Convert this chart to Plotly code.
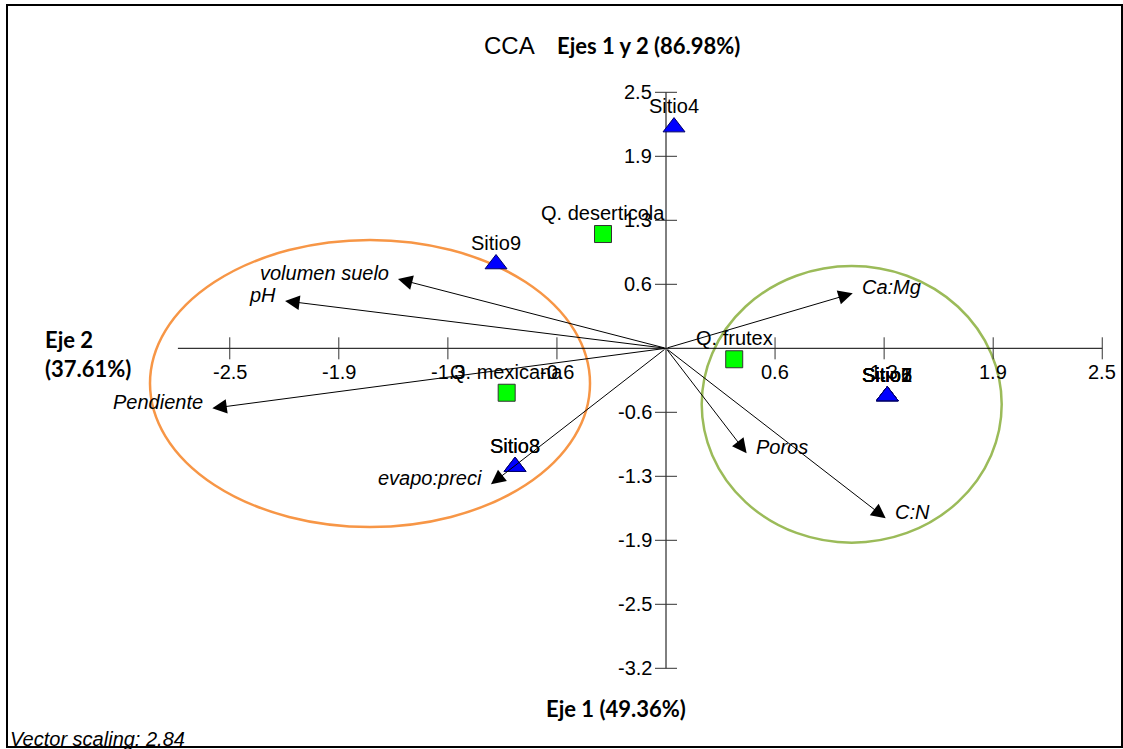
import plotly.graph_objects as go

# ---------------- data ----------------
site_names = ["Sitio4", "Sitio9", "Sitio8", "Sitio3", "Sitio1", "Sitio2", "Sitio5", "Sitio6", "Sitio7"]
site_x = [0.046, -0.974, -0.865, -0.865, 1.268, 1.268, 1.268, 1.268, 1.268]
site_y = [2.160, 0.823, -1.156, -1.156, -0.466, -0.466, -0.466, -0.466, -0.466]

species_names = ["Q. deserticola", "Q. mexicana", "Q. frutex"]
species_x = [-0.361, -0.913, 0.391]
species_y = [1.116, -0.434, -0.107]

vector_names = ["volumen suelo", "pH", "Pendiente", "evapo:preci", "Ca:Mg", "Poros", "C:N"]
vector_x = [-1.536, -2.183, -2.600, -1.003, 1.070, 0.462, 1.259]
vector_y = [0.677, 0.463, -0.586, -1.328, 0.537, -1.025, -1.660]

x_tick_vals = [-2.5, -1.875, -1.25, -0.625, 0.625, 1.25, 1.875, 2.5]
x_tick_text = ["-2.5", "-1.9", "-1.3", "-0.6", "0.6", "1.3", "1.9", "2.5"]
y_tick_vals = [2.5, 1.875, 1.25, 0.625, -0.625, -1.25, -1.875, -2.5, -3.125]
y_tick_text = ["2.5", "1.9", "1.3", "0.6", "-0.6", "-1.3", "-1.9", "-2.5", "-3.2"]

title_main = "CCA"
title_sub = "Ejes 1 y 2 (86.98%)"
xlabel = "Eje 1 (49.36%)"
ylabel_1 = "Eje 2"
ylabel_2 = "(37.61%)"
footnote = "Vector scaling: 2.84"

# ---------------- layout constants ----------------
W, H = 1123, 749
X0PX, XSCALE = 666.0, 174.5     # pixel of x=0, px per unit
Y0PX, YSCALE = 348.3, 102.4     # pixel of y=0, px per unit
x_range = [(0 - X0PX) / XSCALE, (W - X0PX) / XSCALE]
y_range = [(Y0PX - H) / YSCALE, (Y0PX - 0) / YSCALE]

ARIAL = "Liberation Sans, Arial, sans-serif"
BOLD = "Lato, Calibri, sans-serif"

fig = go.Figure()

# axis lines
x_axis_min = -2.797
y_axis_max, y_axis_min = 2.5, -3.125
fig.add_trace(go.Scatter(x=[x_axis_min, 2.5], y=[0, 0], mode="lines",
                         line=dict(color="black", width=1), hoverinfo="skip", showlegend=False))
fig.add_trace(go.Scatter(x=[0, 0], y=[y_axis_min, y_axis_max], mode="lines",
                         line=dict(color="black", width=1), hoverinfo="skip", showlegend=False))

# tick marks
tx, ty = [], []
dy = 11 / YSCALE
for v in x_tick_vals:
    tx += [v, v, None]
    ty += [-dy, dy, None]
dx = 11 / XSCALE
for v in y_tick_vals:
    tx += [-dx, dx, None]
    ty += [v, v, None]
fig.add_trace(go.Scatter(x=tx, y=ty, mode="lines", line=dict(color="#333333", width=1),
                         hoverinfo="skip", showlegend=False))

annotations = []
for v, t in zip(x_tick_vals, x_tick_text):
    annotations.append(dict(x=v, y=0, xref="x", yref="y", text=t, showarrow=False,
                            xanchor="center", yanchor="middle", yshift=-24,
                            font=dict(family=ARIAL, size=20, color="black")))
for v, t in zip(y_tick_vals, y_tick_text):
    annotations.append(dict(x=0, y=v, xref="x", yref="y", text=t, showarrow=False,
                            xanchor="right", yanchor="middle", xshift=-12,
                            font=dict(family=ARIAL, size=20, color="black")))

# ellipses + frame
shapes = [
    dict(type="circle", xref="x", yref="y", x0=-2.957, x1=-0.4355, y0=-1.745, y1=1.0576,
         line=dict(color="#F79646", width=2.5), layer="below"),
    dict(type="circle", xref="x", yref="y", x0=0.2046, x1=1.9238, y0=-1.898, y1=0.8037,
         line=dict(color="#9BBB59", width=2.5), layer="below"),
    dict(type="rect", xref="paper", yref="paper", x0=7 / W, x1=1122 / W,
         y0=1 - 747 / H, y1=1 - 5 / H, line=dict(color="black", width=2)),
]

# vectors (arrows from origin)
for name, vx, vy in zip(vector_names, vector_x, vector_y):
    annotations.append(dict(x=vx, y=vy, ax=0, ay=0, xref="x", yref="y", axref="x", ayref="y",
                            text="", showarrow=True, arrowhead=2, arrowsize=2.9, arrowwidth=1,
                            arrowcolor="black"))
    right = vx > 0
    annotations.append(dict(x=vx, y=vy, xref="x", yref="y", text=name, showarrow=False,
                            xanchor="left" if right else "right", yanchor="middle",
                            xshift=7 if right else -7, yshift=6,
                            font=dict(family=ARIAL, size=20, color="black", style="italic")))

# species
fig.add_trace(go.Scatter(x=species_x, y=species_y, mode="markers",
                         marker=dict(symbol="square", size=17, color="#00FF00",
                                     line=dict(color="#333333", width=1)),
                         text=species_names, hoverinfo="text", showlegend=False))
# sites
fig.add_trace(go.Scatter(x=site_x, y=site_y, mode="markers",
                         marker=dict(symbol="triangle-up", size=19, color="#0000FF",
                                     line=dict(color="#000066", width=1)),
                         text=site_names, hoverinfo="text", showlegend=False))

for name, px, py in list(zip(species_names, species_x, species_y)) + list(zip(site_names, site_x, site_y)):
    annotations.append(dict(x=px, y=py, xref="x", yref="y", text=name, showarrow=False,
                            xanchor="center", yanchor="middle", yshift=21,
                            font=dict(family=ARIAL, size=20, color="black")))

# titles and labels
annotations += [
    dict(x=509 / W, y=1 - 45 / H, xref="paper", yref="paper", text=title_main, showarrow=False,
         xanchor="center", yanchor="middle", font=dict(family=ARIAL, size=24, color="black")),
    dict(x=555 / W, y=1 - 45 / H, xref="paper", yref="paper", text="<b>" + title_sub + "</b>",
         showarrow=False, xanchor="left", yanchor="middle",
         font=dict(family=BOLD, size=22, color="black")),
    dict(x=616 / W, y=1 - 708 / H, xref="paper", yref="paper", text="<b>" + xlabel + "</b>",
         showarrow=False, xanchor="center", yanchor="middle",
         font=dict(family=BOLD, size=22, color="black")),
    dict(x=43 / W, y=1 - 339 / H, xref="paper", yref="paper", text="<b>" + ylabel_1 + "</b>",
         showarrow=False, xanchor="left", yanchor="middle",
         font=dict(family=BOLD, size=22, color="black")),
    dict(x=43 / W, y=1 - 368 / H, xref="paper", yref="paper", text="<b>" + ylabel_2 + "</b>",
         showarrow=False, xanchor="left", yanchor="middle",
         font=dict(family=BOLD, size=22, color="black")),
    dict(x=8 / W, y=1 - 739 / H, xref="paper", yref="paper", text=footnote,
         showarrow=False, xanchor="left", yanchor="middle",
         font=dict(family=ARIAL, size=20, color="black", style="italic")),
]

fig.update_layout(
    width=W, height=H,
    margin=dict(l=0, r=0, t=0, b=0, pad=0),
    paper_bgcolor="white", plot_bgcolor="white",
    xaxis=dict(range=x_range, visible=False, fixedrange=True),
    yaxis=dict(range=y_range, visible=False, fixedrange=True),
    shapes=shapes, annotations=annotations, showlegend=False,
)

fig.write_html("out.html")
